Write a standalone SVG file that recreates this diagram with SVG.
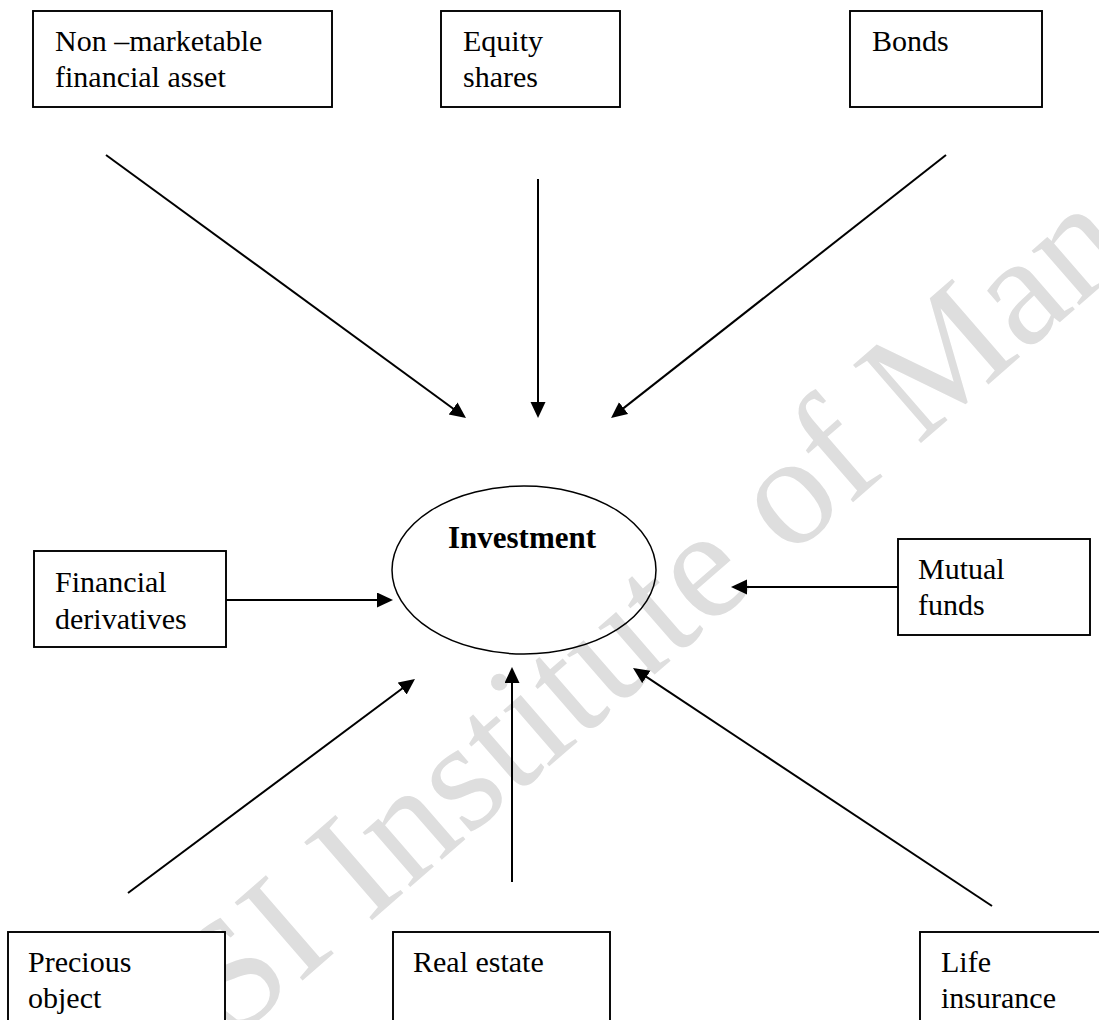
<svg xmlns="http://www.w3.org/2000/svg" width="1099" height="1020" viewBox="0 0 1099 1020">
<defs>
<style>
.box{fill:#fff;stroke:#000;stroke-width:1.9}
.lbl{font-family:"Liberation Serif","Times New Roman",serif;font-size:30px;fill:#000}
.bold{font-weight:bold;font-size:31px}
.con{stroke:#000;stroke-width:2;fill:none;marker-end:url(#ah)}
.wm{font-family:"Liberation Serif","Times New Roman",serif;font-size:158px;fill:#dedede}
</style>
<marker id="ah" markerUnits="userSpaceOnUse" markerWidth="17" markerHeight="16" refX="13" refY="7.5" orient="auto">
<path d="M0,0 L16,7.5 L0,15 z" fill="#000"/>
</marker>
</defs>
<rect width="1099" height="1020" fill="#fff"/>
<text class="wm" transform="translate(232,1042) rotate(-41)">SI Institute of Mana</text>
<g id="connectors">
<line class="con" x1="106" y1="155" x2="463.6" y2="416.2"/>
<line class="con" x1="538" y1="179" x2="538" y2="415"/>
<line class="con" x1="946" y1="155" x2="613.4" y2="416.1"/>
<line class="con" x1="226" y1="600" x2="390" y2="600"/>
<line class="con" x1="898" y1="587" x2="734" y2="587"/>
<line class="con" x1="128" y1="893" x2="412.6" y2="680.8"/>
<line class="con" x1="512" y1="882" x2="512" y2="670"/>
<line class="con" x1="992" y1="906" x2="635.5" y2="669.7"/>
</g>
<g id="node-nonmarketable">
<rect class="box" x="33" y="11" width="299" height="96"/>
<text class="lbl" x="55" y="51">Non –marketable</text>
<text class="lbl" x="55" y="87">financial asset</text>
</g>
<g id="node-equity">
<rect class="box" x="441" y="11" width="179" height="96"/>
<text class="lbl" x="463" y="51">Equity</text>
<text class="lbl" x="463" y="87">shares</text>
</g>
<g id="node-bonds">
<rect class="box" x="850" y="11" width="192" height="96"/>
<text class="lbl" x="872" y="51">Bonds</text>
</g>
<g id="node-investment">
<ellipse cx="524" cy="570" rx="132" ry="84" fill="none" stroke="#000" stroke-width="1.5"/>
<text class="lbl bold" x="522" y="548" text-anchor="middle">Investment</text>
</g>
<g id="node-derivatives">
<rect class="box" x="34" y="551" width="192" height="96"/>
<text class="lbl" x="55" y="592">Financial</text>
<text class="lbl" x="55" y="629">derivatives</text>
</g>
<g id="node-mutual">
<rect class="box" x="898" y="539" width="192" height="96"/>
<text class="lbl" x="918" y="579">Mutual</text>
<text class="lbl" x="918" y="615">funds</text>
</g>
<g id="node-precious">
<rect class="box" x="8" y="932" width="217" height="110"/>
<text class="lbl" x="28" y="972">Precious</text>
<text class="lbl" x="28" y="1008">object</text>
</g>
<g id="node-realestate">
<rect class="box" x="393" y="932" width="217" height="110"/>
<text class="lbl" x="413" y="972">Real estate</text>
</g>
<g id="node-life">
<rect class="box" x="920" y="932" width="200" height="110"/>
<text class="lbl" x="941" y="972">Life</text>
<text class="lbl" x="941" y="1008">insurance</text>
</g>
</svg>
